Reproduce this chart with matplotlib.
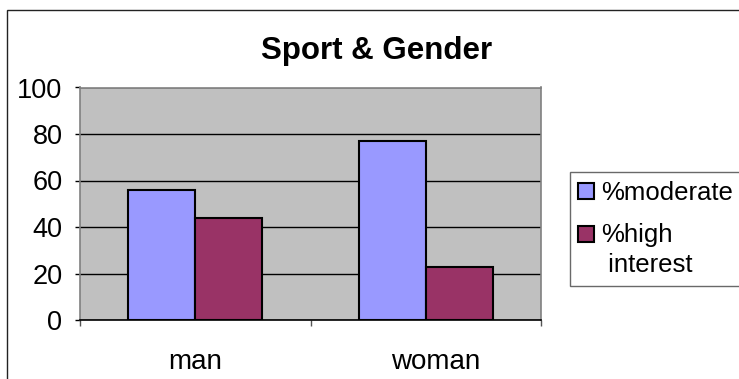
import matplotlib
matplotlib.use("Agg")
import matplotlib.pyplot as plt
from matplotlib.patches import Rectangle
from matplotlib.legend_handler import HandlerPatch
import matplotlib.transforms as mtransforms
import numpy as np

categories = ["man", "woman"]
series_names = ["%moderate", "%high\n interest"]
moderate = [56, 77]
high_interest = [44, 23]
yticks = [0, 20, 40, 60, 80, 100]
colors = ["#9999FF", "#993366"]

plt.rcParams['font.family'] = ['Liberation Sans', 'DejaVu Sans']

W, H = 739, 379
fig = plt.figure(figsize=(W / 100, H / 100), dpi=100)

# outer chart border
fig.patches.append(Rectangle((7 / W, -0.1), 1.2, 1 - 10 / H + 0.1,
                             transform=fig.transFigure, fill=False,
                             edgecolor="#222222", linewidth=1.0))

ax = fig.add_axes([80 / W, 1 - 320 / H, 461 / W, 232.5 / H])
ax.set_facecolor("#C0C0C0")

x = np.arange(len(categories))
bw = 0.29
b1 = ax.bar(x - bw / 2, moderate, bw, color=colors[0], edgecolor="black",
            linewidth=1.5, label=series_names[0], zorder=3)
b2 = ax.bar(x + bw / 2, high_interest, bw, color=colors[1], edgecolor="black",
            linewidth=1.5, label=series_names[1], zorder=3)

ax.set_xlim(-0.5, len(categories) - 0.5)
ax.set_ylim(0, 100)
ax.set_yticks(yticks)
ax.set_yticklabels([str(v) for v in yticks], fontsize=19.5)
ax.yaxis.grid(True, color="black", linewidth=1.0, zorder=1)
ax.set_axisbelow(True)

ax.set_xticks(x)
ax.set_xticklabels(categories, fontsize=20)
ax.set_xticks(np.arange(-0.5, len(categories), 1.0), minor=True)
ax.tick_params(axis="x", which="major", length=0, pad=21)
ax.tick_params(axis="x", which="minor", length=4.5, width=1, color="#555555", direction="out")
ax.tick_params(axis="y", length=3.6, width=1, pad=9, color="black", direction="out")

# the reference's second category label sits a little right of centre
lbl = ax.get_xticklabels()[1]
lbl.set_transform(lbl.get_transform() +
                  mtransforms.ScaledTranslation(10 / 100, 0, fig.dpi_scale_trans))

for s in ["left", "top", "right"]:
    ax.spines[s].set_color("#808080")
    ax.spines[s].set_linewidth(1.2)
ax.spines["bottom"].set_color("black")
ax.spines["bottom"].set_linewidth(1.2)

fig.text(377 / W, 1 - 59.3 / H, "Sport & Gender", ha="center", va="baseline",
         fontsize=22.5, fontweight="bold")


class ShiftedHandler(HandlerPatch):
    def __init__(self, shift=0.0, **kw):
        super().__init__(**kw)
        self.shift = shift

    def create_artists(self, legend, orig_handle, xdescent, ydescent,
                       width, height, fontsize, trans):
        p = Rectangle((-xdescent, -ydescent + self.shift), width, height)
        self.update_prop(p, orig_handle, legend)
        p.set_transform(trans)
        return [p]


h1, h2 = b1.patches[0], b2.patches[0]
leg = fig.legend(handles=[h1, h2], labels=series_names, loc="upper left",
                 bbox_to_anchor=(569.5 / W, 1 - 172 / H), fontsize=18.5,
                 frameon=True, fancybox=False, handlelength=0.6,
                 handleheight=0.6, handletextpad=0.28, labelspacing=0.72,
                 borderpad=0.35, borderaxespad=0,
                 handler_map={h1: ShiftedHandler(0.0), h2: ShiftedHandler(12.0)})
leg.texts[1].set_linespacing(1.3)
leg.get_frame().set_edgecolor("#444444")
leg.get_frame().set_linewidth(1.0)

fig.savefig("out.png", dpi=100)
